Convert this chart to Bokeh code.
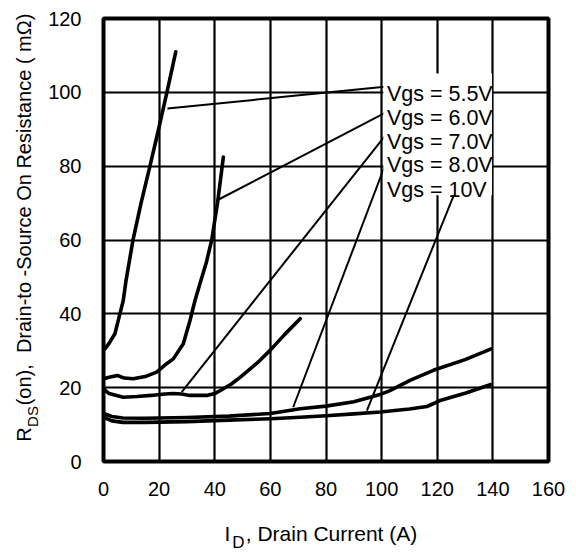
from bokeh.plotting import figure
from bokeh.models import Range1d, FixedTicker, LinearAxis
from bokeh.embed import file_html
from bokeh.resources import INLINE
from bokeh.core.properties import value

# ---------------- data ----------------
id_55 = [0.5, 2, 4.1, 5.9, 7.1, 8.1, 10.6, 13.5, 16.7, 19.8, 22.8, 26.0]
r_55 = [30.5, 32, 34.6, 40, 43.6, 49, 60, 70, 80, 90, 100, 111]

id_60 = [0, 2, 5.0, 7.5, 10.7, 15, 19.1, 22.7, 25.1, 28.7, 31.1, 32.9, 34.7, 37.0, 38.9, 41.0, 43.1]
r_60 = [22.4, 22.8, 23.3, 22.6, 22.4, 23.0, 24.2, 26.5, 27.8, 31.9, 38.2, 43.6, 48.2, 54, 60, 70, 82.5]

id_70 = [0, 2, 7.1, 12, 17, 22, 25.1, 28, 31.1, 37.1, 40, 43.1, 46, 49.1, 52, 56, 59.9, 65, 70.7]
r_70 = [19.7, 18.4, 17.4, 17.6, 17.9, 18.3, 18.4, 18.3, 17.9, 17.9, 18.4, 19.7, 21.0, 22.8, 24.6, 27.2, 30.1, 34.3, 38.7]

id_80 = [0, 3, 7, 15, 30, 45, 60, 70.7, 80, 90, 95.9, 100, 103, 110.2, 118.6, 130, 139.4]
r_80 = [13.0, 12.2, 11.8, 11.7, 11.9, 12.3, 13.0, 14.3, 15.0, 16.2, 17.4, 18.3, 19.2, 22.0, 24.7, 27.6, 30.5]

id_10 = [0, 3, 7, 15, 30, 45, 60, 70.7, 80, 90, 99.5, 110, 116.3, 121, 130, 139]
r_10 = [12.0, 11.0, 10.6, 10.6, 10.8, 11.2, 11.6, 12.0, 12.4, 12.9, 13.4, 14.2, 14.9, 16.5, 18.5, 20.8]

series_labels = ["Vgs = 5.5V", "Vgs = 6.0V", "Vgs = 7.0V", "Vgs = 8.0V", "Vgs = 10V"]
x_tick_values = [0, 20, 40, 60, 80, 100, 120, 140, 160]
y_tick_values = [0, 20, 40, 60, 80, 100, 120]

x_title = ["I", "D", ", Drain Current (A)"]
y_title = ["R", "DS", "(on),\u00a0 Drain-to -Source On Resistance ( m\u03a9)"]

# ---------------- layout / annotation geometry ----------------
label_x = [101.9, 101.9, 101.9, 101.9, 101.9]
label_y = [99.5, 93.1, 86.5, 80.2, 73.6]
leader_x0 = [102.0, 101.9, 101.3, 101.9, 126.4]
leader_y0 = [101.6, 94.7, 88.3, 81.6, 73.0]
leader_x1 = [23.0, 40.7, 28.1, 68.2, 94.7]
leader_y1 = [95.6, 70.7, 18.8, 14.7, 13.8]

FONT = "Liberation Sans"
W, H = 576, 554
L, R, T, B = 103, 28, 18, 93

p = figure(width=W, height=H, output_backend="svg", toolbar_location=None,
           x_range=Range1d(0, 160), y_range=Range1d(0, 120),
           min_border_left=L, min_border_right=R, min_border_top=T,
           min_border_bottom=B)
p.background_fill_color = "white"
p.border_fill_color = "white"
p.outline_line_color = "black"
p.outline_line_width = 4

# pixel-like helper ranges used only to place the axis-title fragments
p.extra_x_ranges = {"px": Range1d(L, W - R)}
p.extra_y_ranges = {"py": Range1d(H - B, T)}

p.xaxis.ticker = x_tick_values
p.yaxis.ticker = y_tick_values
p.grid.grid_line_color = "black"
p.grid.grid_line_width = 2.2


def style_axis(ax, size):
    ax.axis_line_color = None
    ax.major_tick_line_color = None
    ax.minor_tick_line_color = None
    ax.major_tick_out = 0
    ax.major_tick_in = 0
    ax.major_label_text_font = FONT
    ax.major_label_text_font_size = size
    ax.major_label_text_color = "black"


style_axis(p.xaxis[0], "20px")
style_axis(p.yaxis[0], "20px")
p.yaxis.major_label_standoff = 22
p.xaxis.major_label_standoff = 20

# x title: "I" + ", Drain Current (A)" on one row, subscript "D" on a row pulled up
ax_i = LinearAxis(x_range_name="px", ticker=FixedTicker(ticks=[227, 331]),
                  major_label_overrides={227: x_title[0], 331: x_title[2]})
style_axis(ax_i, "21px")
ax_i.major_label_standoff = 23
p.add_layout(ax_i, "below")

ax_d = LinearAxis(x_range_name="px", ticker=FixedTicker(ticks=[238]),
                  major_label_overrides={238: x_title[1]})
style_axis(ax_d, "17px")
ax_d.major_label_standoff = -15
p.add_layout(ax_d, "below")

# y title (rotated): subscript "DS" nearer the frame, then "R" + rest
ax_ds = LinearAxis(y_range_name="py", ticker=FixedTicker(ticks=[416]),
                   major_label_overrides={416: y_title[1]})
style_axis(ax_ds, "15px")
ax_ds.major_label_orientation = "vertical"
ax_ds.major_label_standoff = 5
p.add_layout(ax_ds, "left")

ax_r = LinearAxis(y_range_name="py", ticker=FixedTicker(ticks=[434, 209]),
                  major_label_overrides={434: y_title[0], 209: y_title[2]})
style_axis(ax_r, "20px")
ax_r.major_label_orientation = "vertical"
ax_r.major_label_standoff = -14
p.add_layout(ax_r, "left")

# curves
for xs, ys in [(id_55, r_55), (id_60, r_60), (id_70, r_70), (id_80, r_80), (id_10, r_10)]:
    p.line(xs, ys, line_color="black", line_width=3.6, line_join="round", line_cap="round")

# leader lines
p.segment(x0=leader_x0, y0=leader_y0, x1=leader_x1, y1=leader_y1,
          line_color="black", line_width=2)

# white box behind labels
p.quad(left=[100.6], right=[139.7], bottom=[72.1], top=[105.1],
       fill_color="white", line_color=None)

p.text(x=label_x, y=label_y, text=series_labels, text_font=value(FONT),
       text_font_size="21.5px", text_color="black", text_baseline="alphabetic",
       text_align="left")

open("out.html", "w").write(file_html(p, INLINE))
